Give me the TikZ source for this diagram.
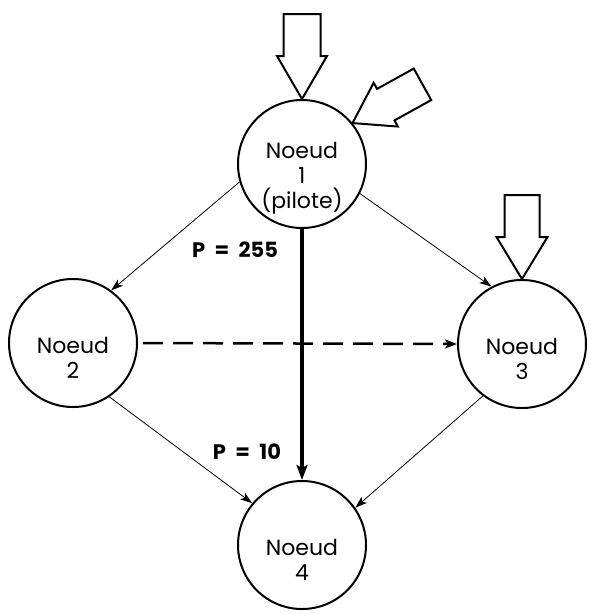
\documentclass[tikz,border=0pt]{standalone}
\usepackage{fontspec}
\setmainfont{Poppins}
\usetikzlibrary{arrows.meta}
\begin{document}
\begin{tikzpicture}[x=1pt,y=-1pt,
  nd/.style={draw,circle,line width=2pt,minimum size=128pt,inner sep=0pt},
  txt/.style={align=center,inner sep=0pt,font=\fontsize{22}{25}\selectfont},
  thin/.style={line width=0.8pt,-{Stealth[length=12pt,width=8pt,inset=3pt]}},
  thick/.style={line width=3.5pt,-{Stealth[length=15pt,width=11pt,inset=3pt]}},
  dsh/.style={line width=2.5pt,dash pattern=on 20pt off 10pt,-{Stealth[length=12pt,width=9pt,inset=3pt]}},
  bigarrow/.style={draw,line width=2pt,fill=white,line join=miter},
  lbl/.style={font=\fontsize{21}{24}\selectfont\bfseries}]
\useasboundingbox (0,0) rectangle (595,614);
\node[nd] (n1) at (302,164) {};
\node[nd] (n2) at (73,343) {};
\node[nd] (n3) at (522,344) {};
\node[nd] (n4) at (302,545) {};
\node[txt] (t1) at ([yshift=-14pt]n1.center) {Noeud\\1\\(pilote)};
\node[txt] (t2) at ([yshift=-15pt]n2.center) {Noeud\\2};
\node[txt] (t3) at ([yshift=-15pt]n3.center) {Noeud\\3};
\node[txt] (t4) at ([yshift=-15pt]n4.center) {Noeud\\4};
% hollow arrows
\draw[bigarrow,shift={(n1.north)}] (0,0) -- (-25,-43) -- (-18.5,-43) -- (-18.5,-85) -- (18.5,-85) -- (18.5,-43) -- (25,-43) -- cycle;
\draw[bigarrow,shift={(n3.north)}] (0,0) -- (-25.5,-42) -- (-17.5,-42) -- (-17.5,-84) -- (17.5,-84) -- (17.5,-42) -- (25.5,-42) -- cycle;
\draw[bigarrow,shift={(n1.39)},rotate=-61] (0,0) -- (-25,-38) -- (-18,-38) -- (-18,-80) -- (18,-80) -- (18,-38) -- (25,-38) -- cycle;
% connectors
\draw[thin] (n1.196) -- (n2.54);
\draw[thin] (n1.-27) -- (n3.118);
\draw[thin] (n2.-56) -- (n4.140);
\draw[thin] (n3.233) -- (n4.35);
\draw[thick] (n1.south) -- (n4.north);
\draw[dsh,shorten <=5pt] (n2.east) -- (n3.west);
\node[lbl] (l1) at (235,250) {P\hspace{0.45em}=\hspace{0.45em}255};
\node[lbl] (l2) at (247,452) {P\hspace{0.45em}=\hspace{0.45em}10};
\end{tikzpicture}
\end{document}
